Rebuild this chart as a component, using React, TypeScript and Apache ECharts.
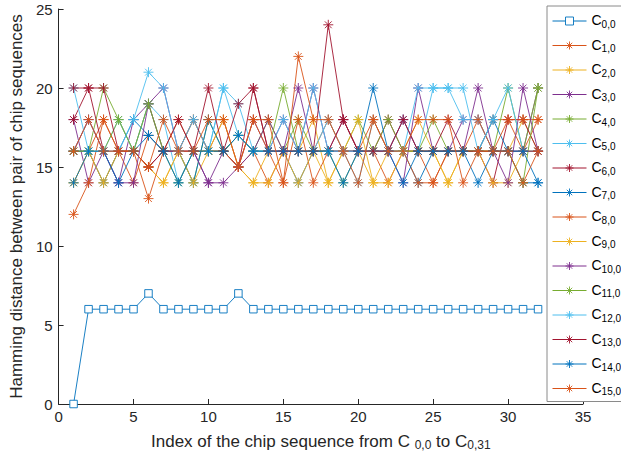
import React, { useEffect, useRef } from "react";
import * as echarts from "echarts";

const xTicks = [0, 5, 10, 15, 20, 25, 30, 35];
const yTicks = [0, 5, 10, 15, 20, 25];
const seriesNames = [
  "C0,0", "C1,0", "C2,0", "C3,0", "C4,0", "C5,0", "C6,0", "C7,0",
  "C8,0", "C9,0", "C10,0", "C11,0", "C12,0", "C13,0", "C14,0", "C15,0",
];
const colors = [
  "#0072BD", "#D95319", "#EDB120", "#7E2F8E", "#77AC30", "#4DBEEE", "#A2142F", "#0072BD",
  "#D95319", "#EDB120", "#7E2F8E", "#77AC30", "#4DBEEE", "#A2142F", "#0072BD", "#D95319",
];

const c0 = [0, 6, 6, 6, 6, 7, 6, 6, 6, 6, 6, 7, 6, 6, 6, 6, 6, 6, 6, 6, 6, 6, 6, 6, 6, 6, 6, 6, 6, 6, 6, 6];
const c1 = [16, 16, 18, 16, 14, 17, 16, 18, 16, 16, 18, 15, 16, 14, 16, 16, 16, 18, 16, 16, 16, 14, 16, 16, 14, 16, 16, 16, 18, 18, 16, 18];
const c2 = [14, 16, 14, 16, 16, 15, 14, 16, 18, 16, 16, 15, 14, 16, 16, 16, 18, 14, 16, 16, 14, 16, 16, 18, 16, 14, 16, 16, 16, 16, 18, 16];
const c3 = [18, 14, 16, 14, 18, 19, 20, 16, 16, 14, 16, 15, 18, 16, 18, 16, 20, 16, 18, 16, 16, 16, 14, 20, 16, 16, 18, 18, 16, 16, 16, 20];
const c4 = [16, 16, 20, 18, 16, 19, 16, 16, 14, 18, 16, 17, 16, 18, 16, 18, 16, 16, 16, 18, 16, 16, 16, 16, 18, 16, 16, 16, 16, 20, 16, 20];
const c5 = [16, 18, 16, 18, 16, 19, 18, 14, 16, 16, 20, 19, 16, 16, 16, 16, 16, 18, 16, 14, 18, 16, 18, 16, 20, 20, 18, 18, 16, 16, 16, 16];
const c6 = [18, 20, 16, 16, 16, 15, 16, 16, 18, 16, 16, 15, 20, 16, 16, 16, 16, 16, 18, 16, 16, 18, 16, 16, 16, 18, 16, 16, 14, 18, 18, 16];
const c7 = [16, 16, 14, 16, 18, 17, 16, 16, 14, 18, 16, 17, 16, 16, 16, 14, 16, 16, 16, 16, 16, 16, 16, 14, 16, 16, 16, 16, 18, 16, 14, 14];
const c8 = [12, 14, 18, 16, 16, 13, 16, 16, 16, 16, 16, 15, 18, 16, 14, 18, 14, 16, 16, 16, 18, 16, 16, 14, 14, 16, 16, 18, 16, 18, 18, 18];
const c9 = [14, 16, 14, 16, 16, 15, 14, 16, 14, 16, 18, 15, 14, 14, 16, 14, 16, 14, 16, 18, 14, 14, 16, 16, 16, 14, 16, 16, 14, 14, 16, 16];
const c10 = [16, 18, 16, 14, 14, 19, 16, 16, 16, 14, 14, 15, 16, 18, 16, 20, 16, 16, 16, 16, 16, 16, 18, 16, 16, 16, 16, 20, 16, 14, 20, 16];
const c11 = [16, 16, 16, 18, 16, 19, 16, 14, 16, 16, 16, 17, 16, 16, 20, 16, 16, 16, 14, 16, 16, 18, 16, 16, 16, 16, 16, 16, 16, 16, 14, 20];
const c12 = [20, 16, 16, 16, 18, 21, 20, 16, 18, 16, 20, 17, 16, 16, 18, 16, 20, 16, 16, 16, 16, 16, 16, 20, 20, 20, 20, 16, 18, 20, 16, 16];
const c13 = [20, 20, 20, 16, 16, 15, 16, 18, 16, 20, 16, 19, 20, 16, 16, 16, 16, 24, 18, 16, 16, 16, 18, 16, 16, 16, 16, 16, 16, 16, 16, 16];
const c14 = [14, 16, 16, 14, 16, 17, 16, 14, 16, 16, 16, 17, 16, 16, 16, 16, 16, 16, 14, 16, 20, 16, 14, 16, 16, 16, 16, 14, 16, 16, 16, 14];
const c15 = [16, 18, 16, 16, 16, 15, 18, 16, 16, 18, 18, 15, 18, 18, 14, 22, 18, 18, 16, 14, 18, 16, 16, 18, 18, 18, 14, 16, 16, 16, 14, 16];

const allValues = [c0, c1, c2, c3, c4, c5, c6, c7, c8, c9, c10, c11, c12, c13, c14, c15];

const FONT = "'Liberation Sans', Arial, Helvetica, sans-serif";
const AXIS_COLOR = "#262626";
const ASTERISK =
  "path://M5 0L5 10M0 5L10 5M1.6 1.6L8.4 8.4M1.6 8.4L8.4 1.6";
const SQUARE = "path://M0 0L10 0L10 10L0 10Z";

export default function App() {
  const ref = useRef<HTMLDivElement>(null);
  useEffect(() => {
    if (!ref.current) return;
    const chart = echarts.init(ref.current, undefined, { renderer: "svg" });
    const series = allValues.map((vals, i) => ({
      name: seriesNames[i],
      type: "line",
      data: vals.map((v, j) => [j + 1, v]),
      symbol: i === 0 ? SQUARE : ASTERISK,
      symbolSize: i === 0 ? 7.5 : 10,
      showAllSymbol: true,
      lineStyle: { width: 0.9, color: colors[i] },
      itemStyle: {
        color: i === 0 ? "#ffffff" : colors[i],
        borderColor: colors[i],
        borderWidth: 0.9,
      },
      emphasis: { disabled: true },
    }));
    chart.setOption({
      animation: false,
      backgroundColor: "#ffffff",
      grid: { left: 54, right: 38, top: 9, bottom: 60 },
      xAxis: {
        type: "value",
        min: xTicks[0],
        max: xTicks[xTicks.length - 1],
        interval: 5,
        splitLine: { show: false },
        axisLine: { lineStyle: { color: AXIS_COLOR, width: 1 } },
        axisTick: { inside: true, length: 5, lineStyle: { color: AXIS_COLOR } },
        axisLabel: { color: AXIS_COLOR, fontSize: 15, fontFamily: FONT, margin: 5 },
        name: "{t|Index of the chip sequence from C }{s|0,0}{t| to C}{s|0,31}",
        nameLocation: "middle",
        nameGap: 27,
        nameTextStyle: {
          color: AXIS_COLOR,
          fontFamily: FONT,
          fontSize: 17,
          rich: {
            t: { fontSize: 17, fontFamily: FONT, color: AXIS_COLOR, lineHeight: 18, verticalAlign: "top" },
            s: { fontSize: 12, fontFamily: FONT, color: AXIS_COLOR, lineHeight: 12, verticalAlign: "bottom", padding: [10, 0, 0, 0] },
          },
        },
      },
      yAxis: {
        type: "value",
        min: yTicks[0],
        max: yTicks[yTicks.length - 1],
        interval: 5,
        splitLine: { show: false },
        axisLine: { show: true, lineStyle: { color: AXIS_COLOR, width: 1 } },
        axisTick: { show: true, inside: true, length: 5, lineStyle: { color: AXIS_COLOR } },
        axisLabel: { color: AXIS_COLOR, fontSize: 15, fontFamily: FONT, margin: 6 },
        name: "Hamming distance between pair of chip sequences",
        nameLocation: "middle",
        nameGap: 29,
        nameTextStyle: { color: AXIS_COLOR, fontFamily: FONT, fontSize: 17 },
      },
      legend: {
        orient: "vertical",
        left: 547,
        top: 6,
        padding: [5, 4, 5, 5],
        itemGap: 6.5,
        itemWidth: 34,
        itemHeight: 10,
        backgroundColor: "#ffffff",
        borderColor: "#8a8a8a",
        borderWidth: 1,
        borderRadius: 0,
        selectedMode: false,
        itemStyle: { borderWidth: 0.9 },
        lineStyle: { width: 1 },
        data: seriesNames,
        formatter: (name: string) => `{c|C}{s|${name.slice(1)}}`,
        textStyle: {
          color: "#000000",
          fontFamily: FONT,
          rich: {
            c: { fontSize: 14, fontFamily: FONT, color: "#000", lineHeight: 16, verticalAlign: "top" },
            s: { fontSize: 10, fontFamily: FONT, color: "#000", lineHeight: 10, verticalAlign: "bottom", padding: [8, 0, 0, 0] },
          },
        },
      },
      series,
    });
    return () => chart.dispose();
  }, []);
  return (
    <div
      ref={ref}
      style={{ position: "fixed", left: 0, top: 0, width: 621, height: 464, background: "#fff" }}
    />
  );
}
